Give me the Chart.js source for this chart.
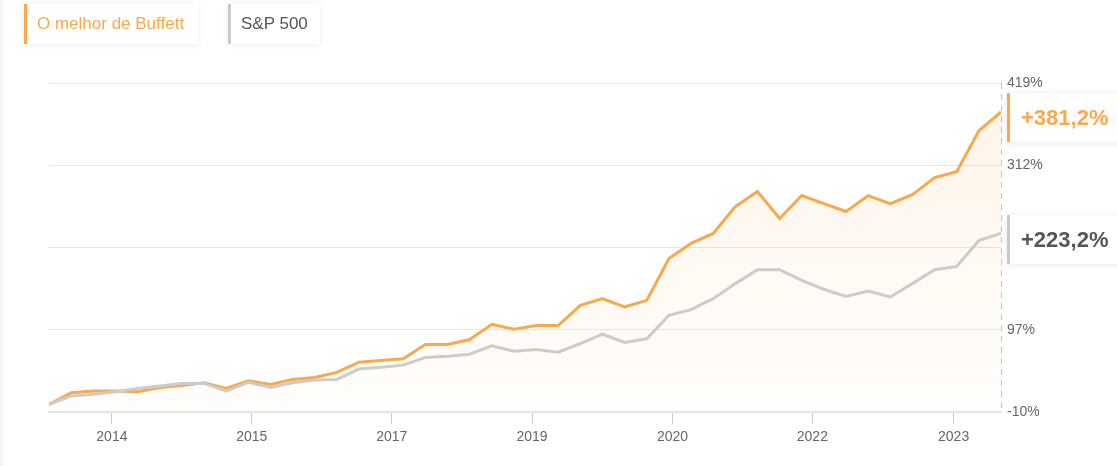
<!DOCTYPE html>
<html>
<head>
<meta charset="utf-8">
<script src="https://cdn.jsdelivr.net/npm/chart.js@4.4.1/dist/chart.umd.min.js"></script>
<style>
  html, body { margin: 0; padding: 0; }
  body { width: 1117px; height: 466px; position: relative; overflow: hidden; background: #fff;
         font-family: "Liberation Sans", Arial, Helvetica, sans-serif; }
  #wrap { position: absolute; left: 0; top: 0; width: 1117px; height: 466px; }
  .strip { position: absolute; left: 0; top: 0; width: 3px; height: 466px; background: #f5f5f5; }
  .leg { position: absolute; top: 4px; height: 40px; line-height: 40px; background: #fff;
         box-sizing: border-box; padding: 0 10px; font-size: 17px; border-left: 3px solid;
         box-shadow: 0 1px 7px rgba(0,0,0,0.08); white-space: nowrap; }
  .endlab { position: absolute; left: 1007px; width: 130px; height: 49px; line-height: 49px;
            box-sizing: border-box; padding-left: 11px; background: #fff; border-left: 3px solid;
            font-size: 22px; font-weight: bold; box-shadow: 0 1px 8px rgba(0,0,0,0.09); white-space: nowrap; }
</style>
</head>
<body>
<div class="strip"></div>
<div id="wrap"><canvas id="c" width="1117" height="466"></canvas></div>
<div class="leg" id="leg1" style="left:24px;width:174px;border-color:#f9a94b;color:#f9a94b;">O melhor de Buffett</div>
<div class="leg" id="leg2" style="left:228px;width:92px;border-color:#c9c9c9;color:#555;">S&amp;P 500</div>
<div class="endlab" id="end1" style="border-color:#f9a94b;color:#f9a94b;"></div>
<div class="endlab" id="end2" style="border-color:#c9c9c9;color:#555;"></div>
<script>
// ---- data (cumulative return, %) ----
const seriesNames = ['O melhor de Buffett', 'S&P 500'];
const buffett = [0, 15, 17.3, 17.3, 16.4, 22, 24.7, 28.1, 20.8, 30.7, 26, 32.5, 35.1, 41.6,
  55, 57.2, 59.3, 78, 78, 84.5, 104.4, 97.9, 102.7, 102.7, 129.1, 137.8, 126.9, 135.6,
  190.2, 209.8, 222.8, 257.9, 277.4, 242.3, 272.2, 261.8, 251.4, 272.2, 261.8, 273.5,
  295.6, 303.4, 356.7, 381.2];
const sp500 = [0, 10.8, 13, 16.4, 20.8, 23.8, 27.3, 27.3, 17.3, 28.6, 22.1, 28.1, 31.6, 32.5,
  46, 48.5, 51.1, 61.1, 62.8, 65.4, 76.2, 69.3, 71.5, 68, 79.3, 91.4, 80.6, 85.5,
  116.1, 123.5, 137.8, 157.4, 175.6, 175.6, 161.6, 150, 140.8, 147.7, 140, 157.4,
  175.6, 179.9, 213.6, 223.2];
const periods = buffett.map((_, i) => i);               // sequential period index
const xTickLabels = ['2014', '2015', '2017', '2019', '2020', '2022', '2023'];
const xTickAt = [2.84, 9.16, 15.48, 21.82, 28.16, 34.48, 40.86]; // in period units
const yTickValues = [-10, 97.25, 204.5, 311.75, 419];

const ORANGE = '#f9a94b';
const GRAY = '#cccccc';

function fmt(v) { return '+' + v.toFixed(1).replace('.', ',') + '%'; }

const endPlugin = {
  id: 'endLabels',
  afterDraw(chart) {
    const a = chart.chartArea;
    const c = chart.ctx;
    c.save();
    c.strokeStyle = '#c4c4c4';
    c.lineWidth = 1;
    c.setLineDash([6, 5]);
    c.beginPath();
    c.moveTo(Math.round(a.right) + 0.5, a.top);
    c.lineTo(Math.round(a.right) + 0.5, a.bottom);
    c.stroke();
    c.restore();

    const ys = chart.scales.y;
    const e1 = document.getElementById('end1');
    const e2 = document.getElementById('end2');
    const v1 = buffett[buffett.length - 1], v2 = sp500[sp500.length - 1];
    e1.textContent = fmt(v1);
    e2.textContent = fmt(v2);
    e1.style.top = (ys.getPixelForValue(v1) - 19) + 'px';
    e2.style.top = (ys.getPixelForValue(v2) - 18) + 'px';
  }
};

const ctx = document.getElementById('c').getContext('2d');
new Chart(ctx, {
  type: 'line',
  data: {
    datasets: [
      {
        label: seriesNames[0],
        data: periods.map(i => ({ x: i, y: buffett[i] })),
        borderColor: ORANGE, borderWidth: 3, pointRadius: 0, tension: 0,
        fill: 'start', order: 2,
        backgroundColor(c) {
          const a = c.chart.chartArea;
          if (!a) return 'rgba(249,169,75,0.06)';
          const g = c.chart.ctx.createLinearGradient(0, a.top, 0, a.bottom);
          g.addColorStop(0, 'rgba(249,169,75,0.13)');
          g.addColorStop(1, 'rgba(249,169,75,0.02)');
          return g;
        }
      },
      {
        label: seriesNames[1],
        data: periods.map(i => ({ x: i, y: sp500[i] })),
        borderColor: GRAY, borderWidth: 3, pointRadius: 0, tension: 0,
        fill: false, order: 1
      }
    ]
  },
  options: {
    responsive: false, animation: false, devicePixelRatio: 1,
    layout: { padding: { top: 83, left: 49, right: 0, bottom: 0 } },
    plugins: { legend: { display: false }, tooltip: { enabled: false } },
    scales: {
      x: {
        type: 'linear', min: 0, max: periods.length - 1, offset: false,
        afterBuildTicks(s) { s.ticks = xTickAt.map(v => ({ value: v })); },
        afterFit(s) { s.height = 54; },
        grid: { drawOnChartArea: false, drawTicks: true, tickLength: 12, color: '#cccccc' },
        border: { display: true, color: '#e6e6e6', width: 2 },
        ticks: {
          autoSkip: false, maxRotation: 0, padding: 5, color: '#666',
          font: { family: '"Liberation Sans", Arial, sans-serif', size: 14 },
          callback(v, i) { return xTickLabels[i]; }
        }
      },
      y: {
        position: 'right', min: -10, max: 419,
        afterBuildTicks(s) { s.ticks = yTickValues.map(v => ({ value: v })); },
        afterFit(s) { s.width = 116; },
        grid: { color: '#e6e6e6', drawTicks: false, lineWidth: 1 },
        border: { display: false },
        ticks: {
          padding: 6, color: '#666',
          font: { family: '"Liberation Sans", Arial, sans-serif', size: 14 },
          callback(v) { return Math.round(v) + '%'; }
        }
      }
    }
  },
  plugins: [endPlugin]
});
</script>
</body>
</html>
